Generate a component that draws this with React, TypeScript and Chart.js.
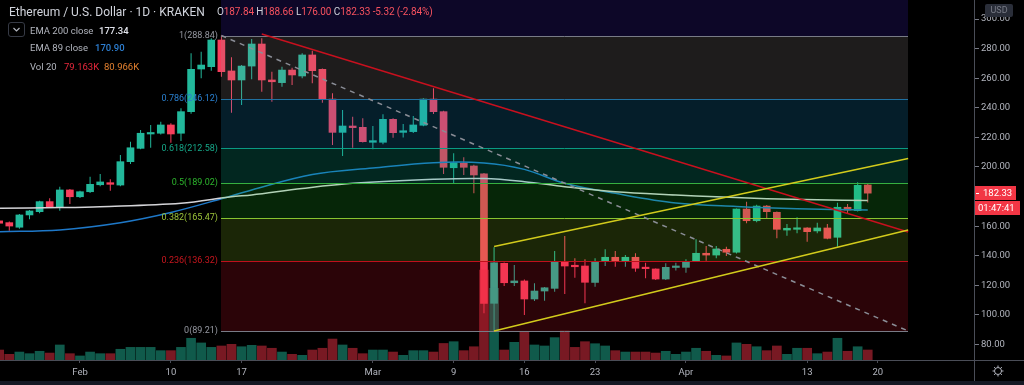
import React, { useEffect, useRef } from 'react';
import { Chart, registerables } from 'chart.js';
Chart.register(...registerables);

// ---- DATA (day index: 0 = Feb 1, 2020) ----
const firstDay = -8; // Jan 24
const opens = [163.6,162.4,159.3,167.6,169.8,176.6,173.2,184.5,
  179.9,183.3,188.0,189.4,187.8,203.6,212.6,222.3,222.8,228.4,
  222.8,237.4,266.2,267.8,285.8,264.9,258.8,268.2,283.1,258.8,
  257.0,265.5,261.5,275.7,266.0,245.9,223.4,227.7,226.8,216.7,
  216.7,232.2,223.4,223.9,228.2,245.9,237.4,199.5,202.5,200.7,
  195.3,107.9,134.9,121.8,123.0,110.8,116.2,118.0,136.0,133.6,
  133.1,122.0,136.7,139.0,136.7,139.0,132.2,131.1,124.3,132.1,
  132.2,136.5,141.7,140.5,144.4,142.4,171.6,163.7,173.6,169.4,
  157.4,157.9,158.8,156.8,158.8,152.5,172.8,170.5,187.84];
const highs = [165.0,163.2,168.2,171.0,177.2,178.9,186.7,185.2,
  184.0,193.4,195.3,191.7,208.1,217.1,225.0,228.4,230.6,229.5,
  239.7,276.8,277.9,287.0,288.84,274.1,269.0,286.5,287.0,264.4,
  267.8,267.0,276.8,278.6,266.5,249.8,238.5,234.0,232.9,227.7,
  235.6,233.0,229.0,234.5,246.5,253.2,238.0,209.3,206.6,201.5,
  196.0,145.7,135.5,133.8,124.0,121.4,119.0,143.2,153.4,138.3,
  137.6,138.3,144.4,143.2,140.5,141.7,135.3,131.5,134.9,135.3,
  137.6,151.1,146.6,146.6,146.1,172.0,176.6,174.5,174.3,170.0,
  161.5,166.0,159.3,162.4,161.5,175.9,175.0,189.7,188.66];
const lows = [160.8,157.0,158.2,164.7,168.8,172.3,170.5,175.0,
  179.0,182.5,187.0,184.0,187.0,202.0,212.0,213.0,222.0,216.4,
  217.6,236.0,259.9,265.0,261.0,236.7,241.9,259.3,250.9,244.1,
  254.3,255.4,260.0,256.6,243.4,214.9,207.4,213.0,216.5,212.0,
  215.3,219.8,220.0,223.0,227.5,235.8,195.3,189.0,194.6,182.2,
  101.1,89.21,119.6,119.6,100.0,109.5,109.7,115.7,114.2,125.2,
  107.9,119.1,133.1,132.6,132.6,129.3,124.8,123.6,123.6,130.0,
  128.6,136.0,136.7,138.3,139.9,141.5,162.0,162.6,165.3,151.8,
  153.6,155.2,149.5,155.2,151.1,146.1,168.2,170.0,176.0];
const closes = [162.0,160.1,167.6,170.3,176.6,173.2,184.5,179.9,
  183.3,188.3,189.9,188.3,203.6,213.0,222.8,223.2,228.4,222.3,
  237.4,266.0,268.9,285.8,264.4,258.8,268.2,283.1,258.8,257.6,
  265.5,262.2,275.7,265.1,245.9,223.4,227.7,226.6,217.1,217.8,
  232.2,223.2,224.5,228.4,245.9,237.4,199.8,202.9,199.8,194.6,
  107.9,135.3,121.8,123.0,110.8,116.2,118.4,136.0,133.1,132.6,
  122.1,136.0,139.0,136.7,139.0,131.6,131.3,124.3,132.2,133.1,
  136.0,141.7,140.5,144.6,142.4,171.6,163.7,173.6,169.8,157.9,
  158.6,158.8,156.3,158.8,151.8,172.8,170.9,187.65,182.33];
const volumesK = [79,45,63,50,69,55,119,50,
  32,63,50,50,85,100,100,100,74,74,
  100,172,135,100,111,124,105,116,111,93,
  63,45,37,79,93,166,119,93,50,79,
  79,63,37,74,74,63,131,145,74,105,
  713,568,79,140,219,119,111,177,230,100,
  145,129,111,74,63,63,63,55,69,45,
  63,93,69,37,32,135,124,105,74,111,
  45,93,93,50,63,172,69,105,79.163];
const volMa20K = 80.966;

const ema200Days = [-8,-2,2,10,15,17,22,27,35,40,44,48,53,59,63,68,73,78];
const ema200Vals = [172.1,172.6,173.2,175.5,179.9,181.1,185.5,189.0,191.7,192.2,190.1,186.7,183.3,181.1,179.9,178.6,177.8,177.34];
const ema89Days = [-8,-2,4,9,14,17,23,29,35,40,44,48,53,59,65,71,78];
const ema89Vals = [156.3,157.5,162.4,169.3,178.5,184.5,194.9,199.3,202.9,202.7,198.4,189.0,182.2,175.7,173.3,171.8,170.9];

const xTickDays = [0, 9, 16, 29, 37, 44, 51, 60, 72, 79];
const xTickLabels = ['Feb', '10', '17', 'Mar', '9', '16', '23', 'Apr', '13', '20'];
const yTicks = [80, 100, 120, 140, 160, 180, 200, 220, 240, 260, 280, 300];

const fibHigh = 288.84;
const fibLow = 89.21;
const fibStartDay = 14;
const fibEndDay = 82;
const fibRatios = [0, 0.236, 0.382, 0.5, 0.618, 0.786, 1, 1.618];

const fibTrendDays = [14, 82];
const fibTrendPrices = [288.84, 89.21];
const redTrendDays = [18, 82];
const redTrendPrices = [289.9, 156.1];
const channelUpperDays = [41, 82];
const channelUpperPrices = [146.3, 205.7];
const channelLowerDays = [41, 82];
const channelLowerPrices = [89.21, 157.4];

const countdown = '01:47:41';

// ---- STYLES ----
const UP = '#22b89b';
const DOWN = '#f83e5c';
const VOL_UP = 'rgba(31,180,150,0.5)';
const VOL_DOWN = 'rgba(240,50,70,0.5)';
const fibFillColors = ['', 'rgba(230,20,40,0.19)', 'rgba(150,210,40,0.18)', 'rgba(30,200,40,0.19)',
  'rgba(8,170,140,0.23)', 'rgba(25,150,210,0.2)', 'rgba(160,150,150,0.19)', 'rgba(70,40,220,0.18)'];
const fibLineColors = ['#787b86', '#c0101c', '#88c530', '#36b040', '#0a9a82', '#2070a0', '#787b86', '#2962ff'];
const fibLabelColors = ['#9598a1', '#c8161e', '#9cc43a', '#2db52d', '#16a889', '#2a80d0', '#9598a1', '#2962ff'];
const FONT = 'Roboto';

const xMin = -7.92, xMax = 88.52, yMin = 69.59, yMax = 312.84, volMax = 2851;

const overlayPlugin: any = {
  id: 'tvOverlay',
  afterDatasetsDraw(chart: any) {
    const { ctx, chartArea: a } = chart;
    const xs = chart.scales.x, ys = chart.scales.y;
    const px = (d: number) => xs.getPixelForValue(d);
    const py = (p: number) => ys.getPixelForValue(p);
    ctx.save();
    ctx.beginPath();
    ctx.rect(a.left, a.top, a.right - a.left, a.bottom - a.top);
    ctx.clip();
    const x0 = Math.round(px(fibStartDay)), x1 = Math.round(px(fibEndDay));
    const levels = fibRatios.map((r) => fibLow + r * (fibHigh - fibLow));
    for (let i = 1; i < levels.length; i++) {
      const yLo = Math.round(py(levels[i - 1])), yHi = Math.round(py(levels[i]));
      ctx.fillStyle = fibFillColors[i];
      ctx.fillRect(x0, yHi, x1 - x0, yLo - yHi);
    }
    ctx.lineWidth = 1;
    fibRatios.forEach((r, i) => {
      if (r > 1) return;
      const y = Math.round(py(levels[i])) + 0.5;
      ctx.strokeStyle = fibLineColors[i];
      ctx.beginPath(); ctx.moveTo(x0, y); ctx.lineTo(x1, y); ctx.stroke();
    });
    const seg = (days: number[], prices: number[], color: string, dash: number[]) => {
      ctx.strokeStyle = color; ctx.lineWidth = 1.5; ctx.setLineDash(dash);
      ctx.beginPath();
      ctx.moveTo(px(days[0]), py(prices[0]));
      ctx.lineTo(px(days[1]), py(prices[1]));
      ctx.stroke();
      ctx.setLineDash([]);
    };
    seg(fibTrendDays, fibTrendPrices, '#8a8d96', [5, 5]);
    seg(redTrendDays, redTrendPrices, '#c8101e', []);
    seg(channelUpperDays, channelUpperPrices, '#d2cb1c', []);
    seg(channelLowerDays, channelLowerPrices, '#d2cb1c', []);
    ctx.font = `9px ${FONT}`;
    ctx.textAlign = 'right';
    ctx.textBaseline = 'middle';
    fibRatios.forEach((r, i) => {
      if (r > 1) return;
      ctx.fillStyle = fibLabelColors[i];
      ctx.fillText(`${r}(${levels[i].toFixed(2)})`, x0 - 3, py(levels[i]));
    });
    ctx.restore();
  },
  afterDraw(chart: any) {
    const { ctx } = chart;
    const ys = chart.scales.y;
    ctx.save();
    ctx.fillStyle = '#151924';
    ctx.fillRect(0, 381, 1024, 4);
    ctx.strokeStyle = '#4a4d57';
    ctx.lineWidth = 1;
    ctx.beginPath();
    ctx.moveTo(0, 360.5); ctx.lineTo(1024, 360.5);
    ctx.moveTo(974.5, 0); ctx.lineTo(974.5, 381);
    ctx.stroke();
    // last price label
    const lastClose = closes[closes.length - 1];
    const yl = Math.round(ys.getPixelForValue(lastClose));
    ctx.fillStyle = '#f23645';
    ctx.fillRect(975, yl - 7, 41, 14);
    ctx.fillRect(975, yl + 8, 45, 14);
    ctx.fillStyle = '#ffffff';
    ctx.fillRect(976, yl, 3, 1);
    ctx.font = `9.5px ${FONT}`;
    ctx.textAlign = 'left';
    ctx.textBaseline = 'middle';
    ctx.fillText(lastClose.toFixed(2), 983, yl + 0.5);
    ctx.fillText(countdown, 978, yl + 15.5);
    // USD badge
    ctx.fillStyle = '#2a2e39';
    ctx.beginPath();
    ctx.roundRect(985, 4, 28, 13, 2);
    ctx.fill();
    ctx.fillStyle = '#787b86';
    ctx.font = `9px ${FONT}`;
    ctx.textAlign = 'center';
    ctx.fillText('USD', 999, 11);
    // gear icon
    ctx.strokeStyle = '#b2b5be';
    ctx.lineWidth = 1;
    ctx.beginPath(); ctx.arc(998, 371, 3.5, 0, Math.PI * 2); ctx.stroke();
    for (let k = 0; k < 8; k++) {
      const ang = (k * Math.PI) / 4;
      ctx.beginPath();
      ctx.moveTo(998 + Math.cos(ang) * 3.5, 371 + Math.sin(ang) * 3.5);
      ctx.lineTo(998 + Math.cos(ang) * 5.5, 371 + Math.sin(ang) * 5.5);
      ctx.stroke();
    }
    ctx.restore();
  },
};

export default function App() {
  const ref = useRef<HTMLCanvasElement>(null);
  useEffect(() => {
    const days = opens.map((_, i) => firstDay + i);
    const up = closes.map((c, i) => c >= opens[i]);
    const chart = new Chart(ref.current as HTMLCanvasElement, {
      type: 'bar',
      data: {
        datasets: [
          {
            type: 'bar', label: 'wick',
            data: days.map((d, i) => ({ x: d, y: [lows[i], highs[i]] })) as any,
            backgroundColor: up.map((u) => (u ? UP : DOWN)),
            barThickness: 1, grouped: false, order: 4, yAxisID: 'y', inflateAmount: 0,
          } as any,
          {
            type: 'bar', label: 'body',
            data: days.map((d, i) => ({ x: d, y: [opens[i], closes[i]] })) as any,
            backgroundColor: up.map((u) => (u ? UP : DOWN)),
            barThickness: 7, minBarLength: 1.5, grouped: false, order: 3, yAxisID: 'y',
          } as any,
          {
            type: 'line', label: 'EMA 200',
            data: ema200Days.map((d, i) => ({ x: d, y: ema200Vals[i] })) as any,
            borderColor: '#d4d4d8', borderWidth: 1.5, pointRadius: 0, tension: 0.35, order: 2, yAxisID: 'y',
          } as any,
          {
            type: 'line', label: 'EMA 89',
            data: ema89Days.map((d, i) => ({ x: d, y: ema89Vals[i] })) as any,
            borderColor: '#1e78c8', borderWidth: 1.5, pointRadius: 0, tension: 0.35, order: 2, yAxisID: 'y',
          } as any,
          {
            type: 'bar', label: 'Volume',
            data: days.map((d, i) => ({ x: d, y: volumesK[i] })) as any,
            backgroundColor: up.map((u) => (u ? VOL_UP : VOL_DOWN)),
            barThickness: 9, grouped: false, order: 1, yAxisID: 'yVol',
          } as any,
        ],
      },
      options: {
        responsive: false,
        animation: false,
        devicePixelRatio: 1,
        events: [],
        layout: { padding: 0 },
        plugins: { legend: { display: false }, tooltip: { enabled: false } },
        scales: {
          x: {
            type: 'linear', position: 'bottom', min: xMin, max: xMax, offset: false,
            grid: { display: true, drawOnChartArea: false, drawTicks: true, tickLength: 3, color: '#4a4d57', offset: false },
            border: { display: false },
            ticks: {
              color: '#b2b5be', font: { family: FONT, size: 9.5 }, padding: 4, autoSkip: false, maxRotation: 0, minRotation: 0,
              callback: (v: any) => {
                const k = xTickDays.indexOf(Number(v));
                return k >= 0 ? xTickLabels[k] : '';
              },
            },
            afterBuildTicks: (s: any) => { s.ticks = xTickDays.map((v) => ({ value: v })); },
            afterFit: (s: any) => { s.height = 25; s.paddingLeft = 0; s.paddingRight = 0; s.paddingTop = 0; s.paddingBottom = 0; },
          } as any,
          y: {
            type: 'linear', position: 'right', min: yMin, max: yMax,
            grid: { display: true, drawOnChartArea: false, drawTicks: true, tickLength: 5, color: '#787b86' },
            border: { display: false },
            ticks: {
              color: '#b2b5be', font: { family: FONT, size: 9.5 }, padding: 2,
              callback: (v: any) => Number(v).toFixed(2),
            },
            afterBuildTicks: (s: any) => { s.ticks = yTicks.map((v) => ({ value: v })); },
            afterFit: (s: any) => { s.width = 50; s.paddingTop = 0; s.paddingBottom = 0; s.paddingLeft = 0; s.paddingRight = 0; },
          } as any,
          yVol: { type: 'linear', display: false, min: 0, max: volMax } as any,
        },
      } as any,
      plugins: [overlayPlugin],
    });
    return () => chart.destroy();
  }, []);

  const n = closes.length;
  const chg = closes[n - 1] - closes[n - 2];
  const pct = (chg / closes[n - 2]) * 100;
  const fmt = (v: number) => (v < 0 ? '-' : '+') + Math.abs(v).toFixed(2);
  const red = '#f7525f';
  const base: React.CSSProperties = { position: 'absolute', whiteSpace: 'nowrap', fontFamily: FONT };

  return (
    <div style={{ position: 'fixed', left: 0, top: 0, width: 1024, height: 385, background: '#000', overflow: 'hidden' }}>
      <canvas ref={ref} width={1024} height={385} style={{ position: 'absolute', left: 0, top: 0, width: 1024, height: 385 }} />
      <div style={{ ...base, left: 9, top: 5, fontSize: 12, lineHeight: '14px', color: '#d1d4dc' }}>
        Ethereum / U.S. Dollar · 1D · KRAKEN
      </div>
      <div style={{ ...base, left: 217, top: 6, fontSize: 10, lineHeight: '12px', color: '#d1d4dc', letterSpacing: '-0.1px' }}>
        O<span style={{ color: red }}>{opens[n - 1].toFixed(2)}</span>{' '}
        H<span style={{ color: red }}>{highs[n - 1].toFixed(2)}</span>{' '}
        L<span style={{ color: red }}>{lows[n - 1].toFixed(2)}</span>{' '}
        C<span style={{ color: red }}>{closes[n - 1].toFixed(2)}</span>{' '}
        <span style={{ color: red }}>{fmt(chg)} ({fmt(pct)}%)</span>
      </div>
      <div style={{ position: 'absolute', left: 8, top: 22, width: 15, height: 13, border: '1px solid #363a45', borderRadius: 3 }}>
        <svg width="15" height="13" style={{ display: 'block' }}>
          <path d="M4.5 5 L7.5 8 L10.5 5" stroke="#b2b5be" strokeWidth="1.2" fill="none" />
        </svg>
      </div>
      <div style={{ ...base, left: 30, top: 25, fontSize: 9.5, lineHeight: '12px', color: '#b2b5be' }}>EMA 200 close</div>
      <div style={{ ...base, left: 99, top: 25, fontSize: 9.5, lineHeight: '12px', color: '#e0e3eb', fontWeight: 500 }}>{ema200Vals[ema200Vals.length - 1].toFixed(2)}</div>
      <div style={{ ...base, left: 30, top: 42, fontSize: 9.5, lineHeight: '12px', color: '#b2b5be' }}>EMA 89 close</div>
      <div style={{ ...base, left: 95, top: 42, fontSize: 9.5, lineHeight: '12px', color: '#2d7fd2', fontWeight: 500 }}>{ema89Vals[ema89Vals.length - 1].toFixed(2)}</div>
      <div style={{ ...base, left: 30, top: 61, fontSize: 9.5, lineHeight: '12px', color: '#b2b5be' }}>Vol 20</div>
      <div style={{ ...base, left: 64, top: 61, fontSize: 9.5, lineHeight: '12px', color: '#e8283c' }}>{volumesK[n - 1].toFixed(3)}K</div>
      <div style={{ ...base, left: 104, top: 61, fontSize: 9.5, lineHeight: '12px', color: '#e4812f' }}>{volMa20K.toFixed(3)}K</div>
    </div>
  );
}
